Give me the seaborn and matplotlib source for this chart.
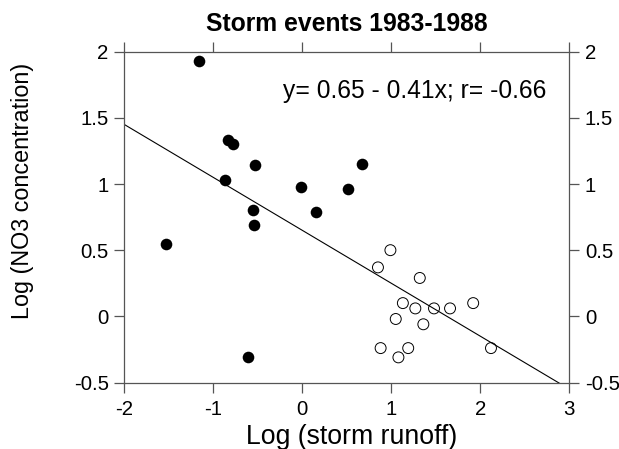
import matplotlib
matplotlib.use("Agg")
import matplotlib.pyplot as plt
import seaborn as sns
import numpy as np
import pandas as pd

# ---- data ----
filled_x = [-1.16, -0.83, -0.78, -0.53, -0.87, -0.01, 0.51, 0.67, 0.15, -0.55, -0.54, -1.53, -0.61]
filled_y = [1.93, 1.33, 1.30, 1.14, 1.03, 0.98, 0.96, 1.15, 0.79, 0.80, 0.69, 0.55, -0.31]

open_x = [0.99, 0.85, 1.32, 1.13, 1.27, 1.48, 1.66, 1.92, 1.05, 1.36, 0.88, 1.19, 1.08, 2.12]
open_y = [0.50, 0.37, 0.29, 0.10, 0.06, 0.06, 0.06, 0.10, -0.02, -0.06, -0.24, -0.24, -0.31, -0.24]

line_x = [-2.0, 2.9]
line_y = [1.45, -0.51]

x_ticks = [-2, -1, 0, 1, 2, 3]
y_ticks = [-0.5, 0, 0.5, 1, 1.5, 2]
x_tick_labels = ["-2", "-1", "0", "1", "2", "3"]
y_tick_labels = ["-0.5", "0", "0.5", "1", "1.5", "2"]

title = "Storm events 1983-1988"
x_label = "Log (storm runoff)"
y_label = "Log (NO3 concentration)"
equation = "y= 0.65 - 0.41x; r= -0.66"

filled_df = pd.DataFrame({"x": filled_x, "y": filled_y})
open_df = pd.DataFrame({"x": open_x, "y": open_y})
line_df = pd.DataFrame({"x": line_x, "y": line_y})

# ---- style ----
sns.set_style("ticks")
plt.rcParams["font.family"] = ["Liberation Sans", "DejaVu Sans"]
plt.rcParams["axes.unicode_minus"] = False
plt.rcParams["text.color"] = "black"
plt.rcParams["axes.labelcolor"] = "black"
plt.rcParams["xtick.color"] = "black"
plt.rcParams["ytick.color"] = "black"

W, H = 619, 449
fig = plt.figure(figsize=(W / 100, H / 100), dpi=100)
ax_left, ax_right, ax_top, ax_bottom = 124.3, 569.3, 51.7, 382.5
ax = fig.add_axes([ax_left / W, 1 - ax_bottom / H, (ax_right - ax_left) / W, (ax_bottom - ax_top) / H])

sns.lineplot(data=line_df, x="x", y="y", ax=ax, color="black", linewidth=0.8, sort=False)
sns.scatterplot(data=filled_df, x="x", y="y", ax=ax, color="black", s=70, linewidth=0, zorder=3)
sns.scatterplot(data=open_df, x="x", y="y", ax=ax, color="black", facecolors="none",
                edgecolor="black", s=62, linewidth=0.7, zorder=3)

ax.set_xlim(-2, 3)
ax.set_ylim(-0.5, 2)
ax.set_xticks(x_ticks)
ax.set_xticklabels(x_tick_labels)
ax.set_yticks(y_ticks)
ax.set_yticklabels(y_tick_labels)
ax.set_xlabel("")
ax.set_ylabel("")

spine_color = "#555555"
for sp in ax.spines.values():
    sp.set_visible(True)
    sp.set_color(spine_color)
    sp.set_linewidth(0.9)

ax.tick_params(axis="both", which="both", direction="out", length=7.2, width=0.9,
               color=spine_color, labelsize=14.7, labelcolor="black")
ax.tick_params(axis="x", top=True, labeltop=False, bottom=True, labelbottom=True, pad=5.5)
ax.tick_params(axis="y", left=True, labelleft=True, right=True, labelright=True, pad=4)

fig.text(346.8 / W, 1 - 23.7 / H, title, ha="center", va="center",
         fontsize=17.8, fontweight="bold", color="black")
fig.text(352 / W, 1 - 444 / H, x_label, ha="center", va="baseline", fontsize=19.2, color="black")
fig.text(22 / W, 1 - 191 / H, y_label, ha="center", va="center", rotation=90,
         fontsize=16.8, color="black")
fig.text(546.7 / W, 1 - 98.3 / H, equation, ha="right", va="baseline", fontsize=17.7, color="black")

fig.savefig("out.png", dpi=100)
